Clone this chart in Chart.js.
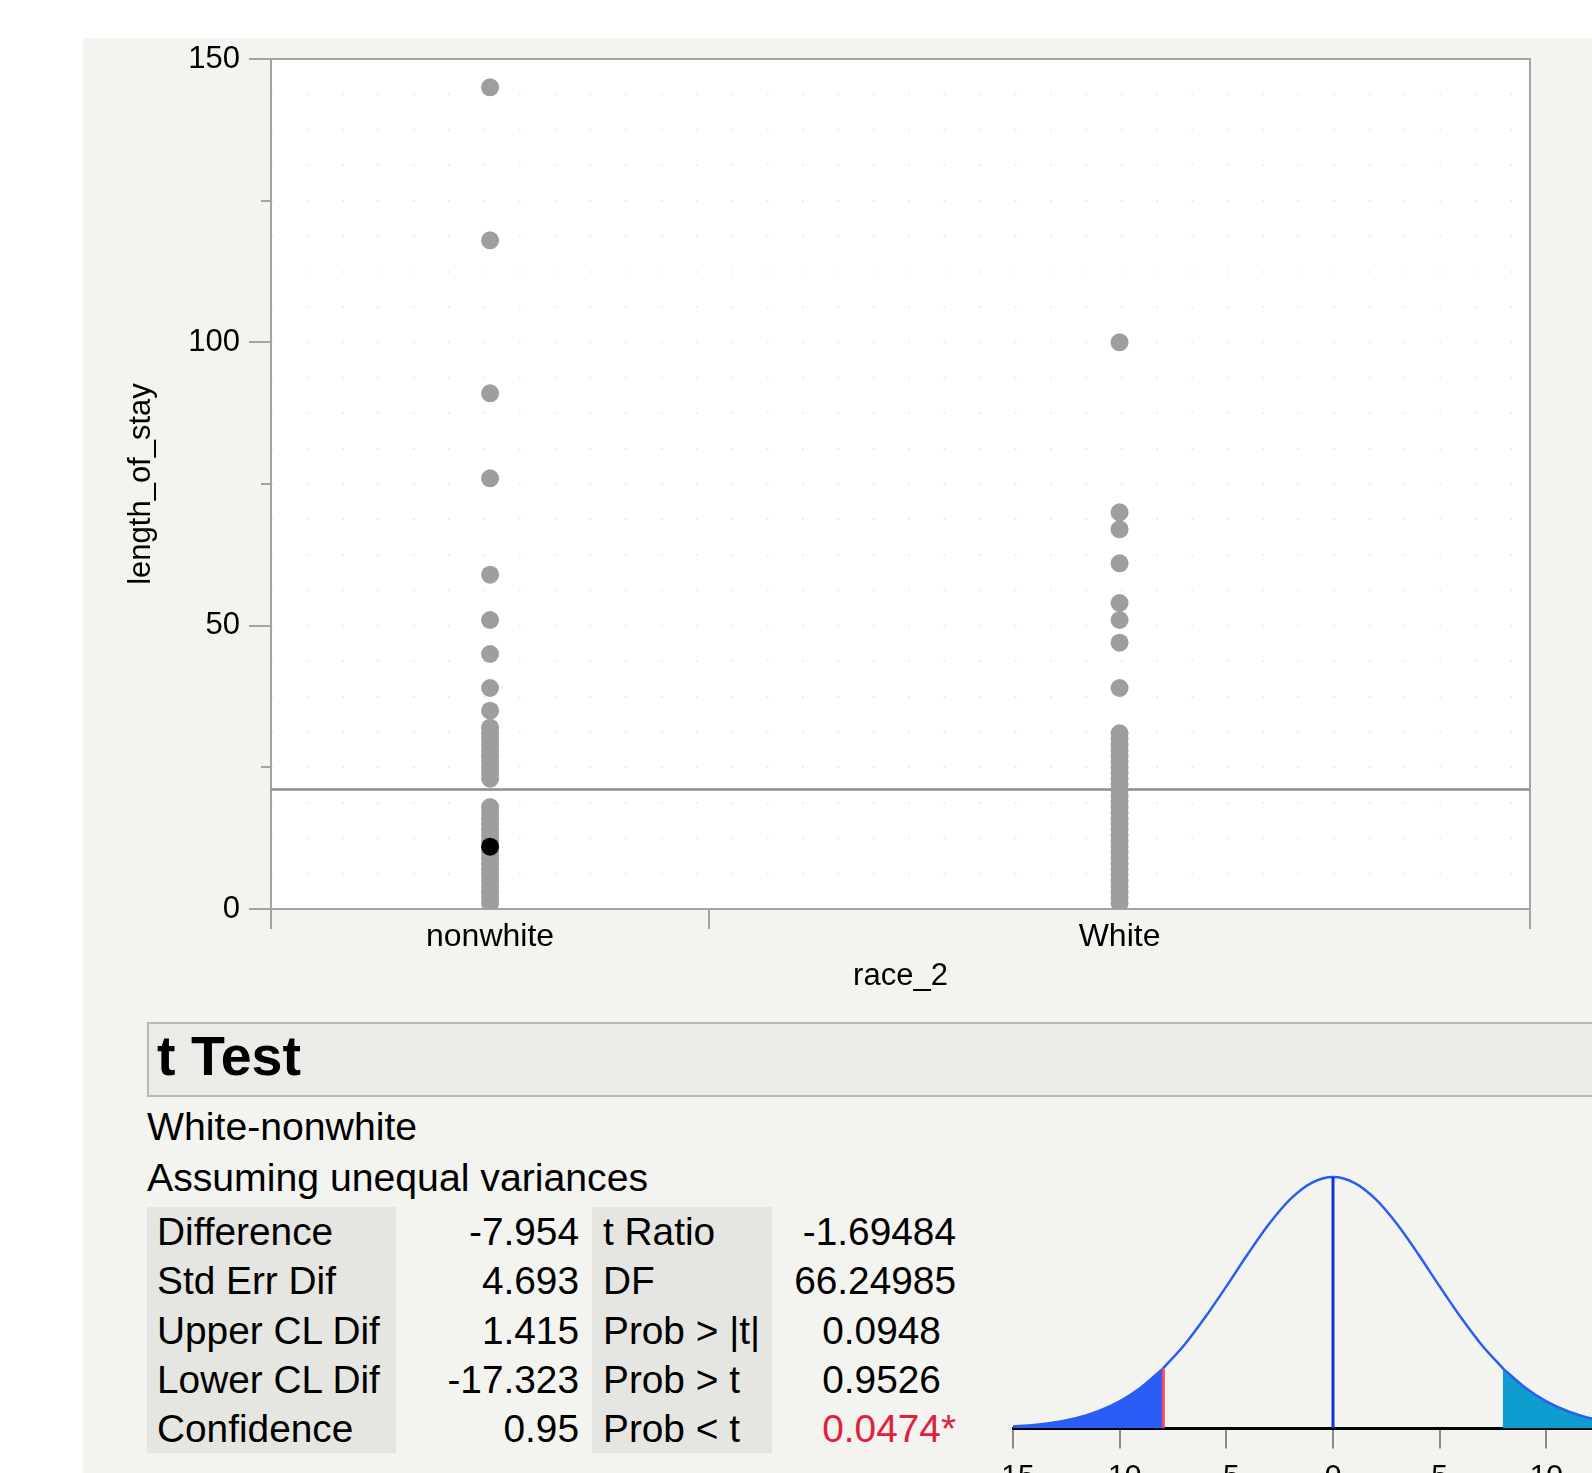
<!DOCTYPE html>
<html>
<head>
<meta charset="utf-8">
<script src="https://cdn.jsdelivr.net/npm/chart.js@4.4.1/dist/chart.umd.min.js"></script>
<style>
  html, body { margin: 0; padding: 0; width: 1592px; height: 1473px; overflow: hidden; background: #fff; font-family: "Liberation Sans", Arial, sans-serif; color: #000; }
  #panel { position: absolute; left: 83px; top: 38px; width: 1509px; height: 1435px; background: #f3f3f0; }
  #scatter { position: absolute; left: 83px; top: 38px; }
  #tdist { position: absolute; left: 990px; top: 1131px; }
  #hdr { position: absolute; left: 147px; top: 1022px; width: 1500px; height: 71px; border: 2px solid #b9b9b6; background: #ebebe8; }
  #hdr span { position: absolute; left: 8px; top: 2px; font-weight: bold; font-size: 55.5px; line-height: 60px; }
  .line { position: absolute; left: 147px; font-size: 39.2px; line-height: 44px; white-space: nowrap; }
  #tbl { position: absolute; left: 147px; top: 1207px; border-collapse: collapse; font-size: 38.8px; }
  #tbl td { height: 49.3px; padding: 0; line-height: 49px; white-space: nowrap; }
  #tbl td.c1 { width: 239px; padding-left: 10px; background: #e5e5e2; }
  #tbl td.c2 { width: 183px; padding-right: 13px; text-align: right; }
  #tbl td.c3 { width: 169px; padding-left: 11px; background: #e5e5e2; }
  #tbl td.c4 { width: 184px; padding-right: 6px; text-align: right; }
  .red { color: #e2203c; }
  .ghost { visibility: hidden; }
</style>
</head>
<body>
<div id="panel"></div>
<canvas id="scatter" width="1509" height="962"></canvas>

<div id="hdr"><span>t Test</span></div>
<div class="line" style="top:1105px">White-nonwhite</div>
<div class="line" style="top:1156px">Assuming unequal variances</div>
<table id="tbl">
  <tr><td class="c1">Difference</td><td class="c2">-7.954</td><td class="c3">t Ratio</td><td class="c4">-1.69484</td></tr>
  <tr><td class="c1">Std Err Dif</td><td class="c2">4.693</td><td class="c3">DF</td><td class="c4">66.24985</td></tr>
  <tr><td class="c1">Upper CL Dif</td><td class="c2">1.415</td><td class="c3">Prob &gt; |t|</td><td class="c4">0.0948<span class="ghost">*</span></td></tr>
  <tr><td class="c1">Lower CL Dif</td><td class="c2">-17.323</td><td class="c3">Prob &gt; t</td><td class="c4">0.9526<span class="ghost">*</span></td></tr>
  <tr><td class="c1">Confidence</td><td class="c2">0.95</td><td class="c3">Prob &lt; t</td><td class="c4 red">0.0474*</td></tr>
</table>

<canvas id="tdist" width="700" height="370"></canvas>

<script>
// grupos del eje x (JMP los dibuja con ancho proporcional al tamaño del grupo)
const groups = ['nonwhite', 'White'];
const groupShare = [0.348, 0.652];

// length_of_stay
const nonwhiteStay = [145, 118, 91, 76, 59, 51, 45, 39, 35, 32, 31, 30, 29, 28, 27, 26, 25, 24, 23,
  18, 17, 16, 15, 14, 13, 12, 11, 10, 9, 8, 7, 6, 5, 4, 3, 2, 1];
const whiteStay = [100, 70, 67, 61, 54, 51, 47, 39, 31, 30, 29, 28, 27, 26, 25, 24, 23, 22, 21, 20,
  19, 18, 17, 16, 15, 14, 13, 12, 11, 10, 9, 8, 7, 6, 5, 4, 3, 2, 1];
const selectedStay = 11;   // punto marcado en negro (nonwhite)
const grandMean = 21.1;

// curva t (diferencia White-nonwhite), alturas relativas
const tCurveX = [-15, -14, -13, -12, -11, -10, -9, -8, -7.954, -7, -6, -5, -4, -3, -2, -1, 0,
  1, 2, 3, 4, 5, 6, 7, 7.954, 8, 9, 10, 11, 12, 13, 14, 15];
const tCurveH = [0.008, 0.014, 0.025, 0.042, 0.069, 0.108, 0.163, 0.236, 0.240, 0.329, 0.441, 0.565, 0.693, 0.813, 0.912, 0.977, 1,
  0.977, 0.912, 0.813, 0.693, 0.565, 0.441, 0.329, 0.240, 0.236, 0.163, 0.108, 0.069, 0.042, 0.025, 0.014, 0.008];
const diffEstimate = -7.954;
const tTicks = [-15, -10, -5, 0, 5, 10, 15];

// bordes y centros de cada grupo
const groupEdges = [0];
groupShare.forEach(s => groupEdges.push(groupEdges[groupEdges.length - 1] + s));
const groupCenters = groupShare.map((s, i) => groupEdges[i] + s / 2);

const gris = '#a3a3a3';

const plotFrame = {
  id: 'plotFrame',
  beforeDraw(chart) {
    const { ctx, chartArea: a } = chart;
    ctx.save();
    ctx.fillStyle = '#ffffff';
    ctx.fillRect(a.left, a.top, a.right - a.left, a.bottom - a.top);
    ctx.restore();
  },
  afterDraw(chart) {
    const { ctx, chartArea: a } = chart;
    ctx.save();
    ctx.strokeStyle = gris;
    ctx.lineWidth = 2;
    ctx.beginPath();
    ctx.moveTo(a.left, a.top);
    ctx.lineTo(a.right, a.top);
    ctx.lineTo(a.right, a.bottom);
    ctx.stroke();
    ctx.restore();
  }
};

Chart.defaults.font.family = '"Liberation Sans", Arial, sans-serif';
Chart.defaults.color = '#000';

new Chart(document.getElementById('scatter'), {
  type: 'scatter',
  data: {
    datasets: [
      {
        data: [{ x: groupCenters[0], y: selectedStay }],
        backgroundColor: '#000', pointRadius: 9, borderWidth: 0, order: 0
      },
      {
        data: nonwhiteStay.map(v => ({ x: groupCenters[0], y: v })),
        backgroundColor: '#9e9e9e', pointRadius: 9, borderWidth: 0, order: 1
      },
      {
        data: whiteStay.map(v => ({ x: groupCenters[1], y: v })),
        backgroundColor: '#9e9e9e', pointRadius: 9, borderWidth: 0, order: 1
      },
      {
        type: 'line',
        data: [{ x: 0, y: grandMean }, { x: 1, y: grandMean }],
        borderColor: '#8c8c8c', borderWidth: 2.5, pointRadius: 0, order: 2
      }
    ]
  },
  options: {
    responsive: false,
    animation: false,
    devicePixelRatio: 1,
    layout: { padding: { top: 21, right: 62, left: 0, bottom: 0 } },
    plugins: { legend: { display: false }, tooltip: { enabled: false } },
    scales: {
      x: {
        type: 'linear', min: 0, max: 1, weight: 1,
        afterBuildTicks: s => { s.ticks = groupCenters.map(v => ({ value: v })); },
        afterFit: s => { s.height = 91; },
        ticks: { callback: (v, i) => groups[i], autoSkip: false, maxRotation: 0, padding: 9, font: { size: 32 } },
        grid: { drawOnChartArea: false, drawTicks: false },
        border: { display: true, color: gris, width: 2 },
        title: { display: true, text: 'race_2', font: { size: 31 }, padding: { top: 0, bottom: 5 } }
      },
      x2: {
        type: 'linear', position: 'bottom', min: 0, max: 1, weight: 0,
        afterBuildTicks: s => { s.ticks = groupEdges.map(v => ({ value: v })); },
        afterFit: s => { s.height = 0; },
        ticks: { display: false },
        grid: { drawOnChartArea: false, tickLength: 20, color: gris, lineWidth: 2 },
        border: { display: false }
      },
      y: {
        min: 0, max: 150, weight: 2,
        afterFit: s => { s.width = 188; s.paddingTop = 0; s.paddingBottom = 0; },
        ticks: { stepSize: 50, padding: 9, font: { size: 31 } },
        grid: { drawOnChartArea: false, tickLength: 22, color: gris, lineWidth: 2 },
        border: { color: gris, width: 2 },
        title: { display: true, text: 'length_of_stay', font: { size: 31 }, padding: { top: 40, bottom: 0 } }
      },
      y2: {
        position: 'left', min: 0, max: 150, weight: 1,
        afterFit: s => { s.width = 0; },
        ticks: { display: false, stepSize: 25 },
        grid: { drawOnChartArea: false, tickLength: 10, color: gris, lineWidth: 2 },
        border: { display: false }
      },
      // rejilla de puntos muy tenue del fondo
      yDots: {
        position: 'left', min: 0, max: 150, weight: 0,
        afterFit: s => { s.width = 0; },
        ticks: { display: false, stepSize: 6.25 },
        grid: { drawOnChartArea: true, drawTicks: false, color: '#ededed', lineWidth: 2 },
        border: { display: false, dash: [2, 33.4] }
      }
    }
  },
  plugins: [plotFrame]
});

// grafico de la distribucion t
const curva = tCurveX.map((x, i) => ({ x: x, y: tCurveH[i] }));
const colaIzq = curva.filter(p => p.x <= diffEstimate);
const colaDer = curva.filter(p => p.x >= -diffEstimate);
const alturaDif = tCurveH[tCurveX.indexOf(diffEstimate)];

new Chart(document.getElementById('tdist'), {
  type: 'scatter',
  data: {
    datasets: [
      { data: [{ x: 0, y: 0 }, { x: 0, y: 1 }], showLine: true, borderColor: '#1234d4', borderWidth: 3, pointRadius: 0, order: 0 },
      { data: [{ x: diffEstimate, y: 0 }, { x: diffEstimate, y: alturaDif }], showLine: true, borderColor: '#f04a5c', borderWidth: 3, pointRadius: 0, order: 0 },
      { data: curva, showLine: true, borderColor: '#2a5ef0', borderWidth: 2.5, pointRadius: 0, tension: 0.3, order: 1 },
      { data: colaIzq, showLine: true, fill: 'origin', backgroundColor: '#2c5cf6', borderWidth: 0, pointRadius: 0, tension: 0.3, order: 2 },
      { data: colaDer, showLine: true, fill: 'origin', backgroundColor: '#0f9ccf', borderWidth: 0, pointRadius: 0, tension: 0.3, order: 2 }
    ]
  },
  options: {
    responsive: false,
    animation: false,
    devicePixelRatio: 1,
    layout: { padding: { top: 41, left: 23, right: 37, bottom: 0 } },
    plugins: { legend: { display: false }, tooltip: { enabled: false } },
    scales: {
      x: {
        type: 'linear', min: -15, max: 15,
        afterBuildTicks: s => { s.ticks = tTicks.map(v => ({ value: v })); },
        afterFit: s => { s.height = 72.5; s.paddingLeft = 0; s.paddingRight = 0; },
        ticks: { padding: 10, font: { size: 30 }, autoSkip: false, maxRotation: 0 },
        grid: { drawOnChartArea: false, tickLength: 20, color: '#8a8a8a', lineWidth: 2 },
        border: { color: '#000', width: 3 }
      },
      y: { display: false, min: 0, max: 1.02 }
    }
  }
});
</script>
</body>
</html>
